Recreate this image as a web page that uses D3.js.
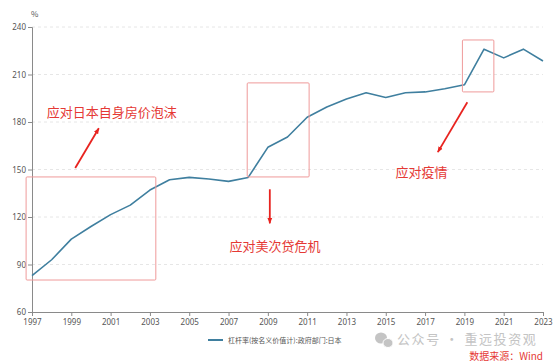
<!DOCTYPE html>
<html>
<head>
<meta charset="utf-8">
<script src="https://cdn.jsdelivr.net/npm/d3@7"></script>
<style>
  body { margin: 0; background: #fff; }
  svg { display: block; font-family: "Noto Sans CJK SC", "Noto Sans", sans-serif; }
</style>
</head>
<body>
<div id="chart"></div>
<script>
// 杠杆率(按名义价值计):政府部门:日本, %
const years = d3.range(1997, 2024);
const leverage = [83, 93, 106, 114, 121.5, 127.5, 137, 143.5, 145, 144, 142.5, 145,
                  164, 170.5, 183, 189.5, 194.5, 198.5, 195.5, 198.5, 199, 201, 203.5,
                  226, 220.5, 226, 218.5];
const yTicks = [60, 90, 120, 150, 180, 210, 240];
const xTicks = d3.range(1997, 2024, 2);

// highlight boxes [x0, x1, y0, y1] in data units
const boxes = [
  [1996.7, 2003.3, 80.2, 145.3],
  [2007.95, 2011.1, 145.3, 204.7],
  [2018.9, 2020.5, 199, 231.8]
];
const notes = [
  {text: "应对日本自身房价泡沫", x: 1997.75, y: 183},
  {text: "应对美次贷危机", x: 2007.05, y: 98.5},
  {text: "应对疫情", x: 2015.5, y: 145}
];
// arrows [x0, y0, x1, y1] in data units
const arrows = [
  [1999.2, 151, 2000.4, 176],
  [2009.1, 137.5, 2009.1, 116],
  [2019.15, 192.5, 2017.65, 161]
];

const width = 554, height = 363;
const margin = {top: 27, right: 11, bottom: 51, left: 32};

const svg = d3.select("#chart").append("svg")
  .attr("width", width)
  .attr("height", height);

const x = d3.scaleLinear().domain([1997, 2023]).range([margin.left, width - margin.right]);
const y = d3.scaleLinear().domain([60, 240]).range([height - margin.bottom, margin.top]);

// grid
svg.append("g")
  .selectAll("line")
  .data(yTicks.slice(1))
  .join("line")
    .attr("x1", margin.left)
    .attr("x2", width - margin.right)
    .attr("y1", d => y(d))
    .attr("y2", d => y(d))
    .attr("stroke", "#e6e6e6")
    .attr("stroke-dasharray", "3,3");

// axes
const yAxis = svg.append("g")
  .attr("transform", `translate(${margin.left},0)`)
  .call(d3.axisLeft(y).tickValues(yTicks).tickSize(4).tickPadding(2));
const xAxis = svg.append("g")
  .attr("transform", `translate(0,${height - margin.bottom})`)
  .call(d3.axisBottom(x).tickValues(xTicks).tickFormat(d3.format("d")).tickSize(4).tickPadding(3));
[yAxis, xAxis].forEach(a => {
  a.select(".domain").attr("stroke", "#8a8a8a");
  a.selectAll(".tick line").attr("stroke", "#8a8a8a");
  a.selectAll(".tick text").attr("fill", "#555").attr("font-size", 8)
    .attr("font-family", "Noto Sans, sans-serif");
});

svg.append("text")
  .attr("x", 31).attr("y", 17)
  .attr("font-size", 8).attr("fill", "#555")
  .text("%");

// line
svg.append("path")
  .datum(leverage)
  .attr("fill", "none")
  .attr("stroke", "#3f7f9f")
  .attr("stroke-width", 1.6)
  .attr("stroke-linejoin", "round")
  .attr("d", d3.line().x((d, i) => x(years[i])).y(d => y(d)));

// boxes
svg.append("g")
  .selectAll("rect")
  .data(boxes)
  .join("rect")
    .attr("x", d => x(d[0]))
    .attr("y", d => y(d[3]))
    .attr("width", d => x(d[1]) - x(d[0]))
    .attr("height", d => y(d[2]) - y(d[3]))
    .attr("fill", "none")
    .attr("stroke", "#ef9a9a")
    .attr("stroke-width", 1)
    .attr("rx", 1);

// arrows
const defs = svg.append("defs");
defs.append("marker")
  .attr("id", "head")
  .attr("viewBox", "0 0 10 10")
  .attr("refX", 9).attr("refY", 5)
  .attr("markerWidth", 6).attr("markerHeight", 6)
  .attr("markerUnits", "userSpaceOnUse")
  .attr("orient", "auto")
  .append("path")
    .attr("d", "M0,1 L10,5 L0,9 Z")
    .attr("fill", "#e8231f");

svg.append("g")
  .selectAll("line")
  .data(arrows)
  .join("line")
    .attr("x1", d => x(d[0]))
    .attr("y1", d => y(d[1]))
    .attr("x2", d => x(d[2]))
    .attr("y2", d => y(d[3]))
    .attr("stroke", "#e8231f")
    .attr("stroke-width", 1.8)
    .attr("marker-end", "url(#head)");

// notes
svg.append("g")
  .selectAll("text")
  .data(notes)
  .join("text")
    .attr("x", d => x(d.x))
    .attr("y", d => y(d.y))
    .attr("font-size", 13)
    .attr("fill", "#e53935")
    .text(d => d.text);

// legend
svg.append("line")
  .attr("x1", 208).attr("x2", 223)
  .attr("y1", 340).attr("y2", 340)
  .attr("stroke", "#3f7f9f").attr("stroke-width", 2);
svg.append("text")
  .attr("x", 228).attr("y", 343)
  .attr("font-size", 7).attr("fill", "#555")
  .text("杠杆率(按名义价值计):政府部门:日本");

// watermark + source
const wm = svg.append("g").attr("fill", "#c4c4c4");
wm.append("ellipse").attr("cx", 381).attr("cy", 338).attr("rx", 6).attr("ry", 5.5);
wm.append("ellipse").attr("cx", 388).attr("cy", 343).attr("rx", 5).attr("ry", 4.5).attr("stroke", "#fff").attr("stroke-width", 1);
wm.append("text")
  .attr("x", 397).attr("y", 344)
  .attr("font-size", 13)
  .attr("letter-spacing", 1.6)
  .text("公众号 · 重远投资观");
svg.append("text")
  .attr("x", 543).attr("y", 360)
  .attr("text-anchor", "end")
  .attr("font-size", 10)
  .attr("fill", "#e53935")
  .text("数据来源：Wind");
</script>
</body>
</html>
